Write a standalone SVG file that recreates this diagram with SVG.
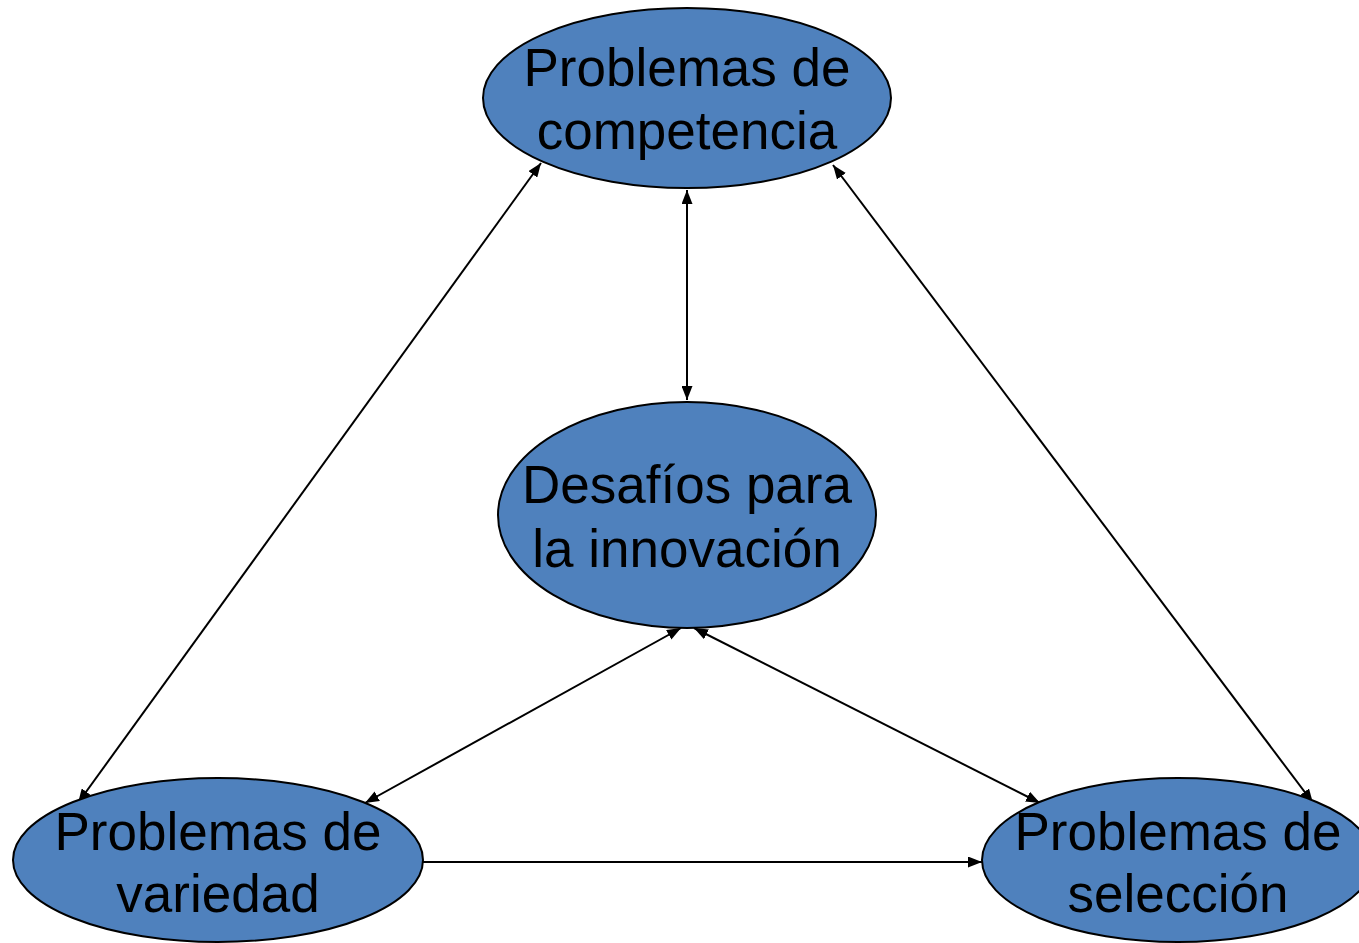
<svg xmlns="http://www.w3.org/2000/svg" width="1359" height="943" viewBox="0 0 1359 943">
<style>
.node{fill:#4F81BD;stroke:#000;stroke-width:2}
.lbl{font-family:"Liberation Sans",Arial,sans-serif;font-size:53px;fill:#000;text-anchor:middle}
.edge{stroke:#000;stroke-width:2;fill:none}
</style>
<defs>
<marker id="arr" viewBox="0 0 14 11" refX="14" refY="5.5" markerWidth="14" markerHeight="11" markerUnits="userSpaceOnUse" orient="auto-start-reverse">
<path d="M0,0 L14,5.5 L0,11 Z" fill="#000"/>
</marker>
</defs>
<rect width="1359" height="943" fill="#fff"/>
<g id="connectors">
<line class="edge" x1="687" y1="190" x2="687" y2="400" marker-start="url(#arr)" marker-end="url(#arr)"/>
<line class="edge" x1="541" y1="163" x2="78" y2="803" marker-start="url(#arr)" marker-end="url(#arr)"/>
<line class="edge" x1="833" y1="165" x2="1313" y2="803" marker-start="url(#arr)" marker-end="url(#arr)"/>
<line class="edge" x1="681" y1="628" x2="365" y2="803" marker-start="url(#arr)" marker-end="url(#arr)"/>
<line class="edge" x1="694" y1="628" x2="1040" y2="803" marker-start="url(#arr)" marker-end="url(#arr)"/>
<line class="edge" x1="423" y1="862" x2="982" y2="862" marker-end="url(#arr)"/>
</g>
<g id="competencia">
<ellipse class="node" cx="687" cy="98" rx="204" ry="90"/>
<text class="lbl" x="687" y="86">Problemas de</text>
<text class="lbl" x="687" y="149">competencia</text>
</g>
<g id="desafios">
<ellipse class="node" cx="687" cy="515" rx="189" ry="113"/>
<text class="lbl" x="687" y="503">Desafíos para</text>
<text class="lbl" x="687" y="567">la innovación</text>
</g>
<g id="variedad">
<ellipse class="node" cx="218" cy="860" rx="205" ry="82"/>
<text class="lbl" x="218" y="850">Problemas de</text>
<text class="lbl" x="218" y="912">variedad</text>
</g>
<g id="seleccion">
<ellipse class="node" cx="1178" cy="860" rx="196" ry="82"/>
<text class="lbl" x="1178" y="850">Problemas de</text>
<text class="lbl" x="1178" y="912">selección</text>
</g>
</svg>
